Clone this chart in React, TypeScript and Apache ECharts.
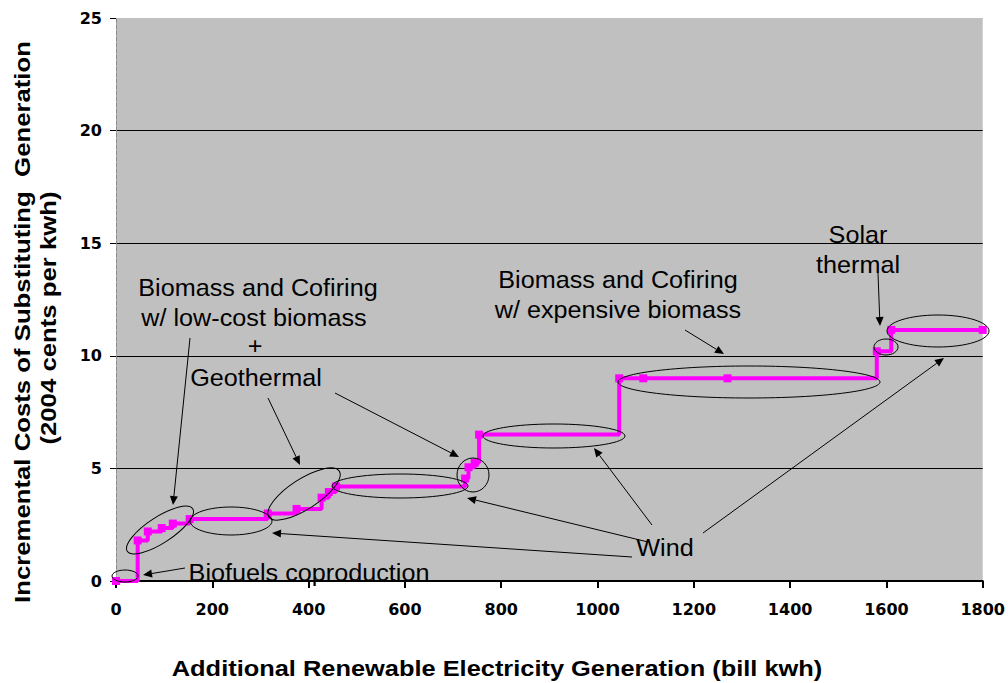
import React, { useEffect, useRef } from "react";
import * as echarts from "echarts";

// Supply curve data (bill kwh, 2004 cents per kwh)
const generation = [0, 45, 66, 95, 118, 153, 315, 375, 427, 442, 457, 725, 732, 745, 754, 1045, 1095, 1270, 1580, 1610, 1800];
const cost = [0, 1.8, 2.2, 2.35, 2.55, 2.75, 3.0, 3.2, 3.7, 3.95, 4.2, 4.55, 5.05, 5.25, 6.5, 9.0, 9.0, 9.0, 10.2, 11.15, 11.15];

const xTicks = [0, 200, 400, 600, 800, 1000, 1200, 1400, 1600, 1800];
const yTicks = [0, 5, 10, 15, 20, 25];

const xTitle = "Additional Renewable Electricity Generation (bill kwh)";
const yTitle1 = "Incremental Costs of Substituting  Generation";
const yTitle2 = "(2004 cents per kwh)";

// Annotation labels
const labelTexts = [
  "Biomass and Cofiring",
  "w/ low-cost biomass",
  "+",
  "Geothermal",
  "Biomass and Cofiring",
  "w/ expensive biomass",
  "Solar",
  "thermal",
  "Wind",
  "Biofuels coproduction",
];

export default function App() {
  const ref = useRef<HTMLDivElement>(null);
  useEffect(() => {
    if (!ref.current) return;
    const chart = echarts.init(ref.current, null, { renderer: "svg" });

    const labelPos = [
      [258, 288], [254, 318], [255, 346], [256, 378],
      [618, 280], [618, 310],
      [858, 235], [858, 265],
      [665, 548],
      [309, 573],
    ];
    const ellipses = [
      [125, 576, 13, 6, 0],
      [160, 530, 39, 13, 33],
      [231, 521, 41, 14, 0],
      [304, 494, 42, 15, 33],
      [400, 486, 68, 12, 0],
      [473, 475, 16, 17, 0],
      [554, 436, 71, 12, 0],
      [749, 382, 131, 16, 0],
      [886, 347, 12, 8, 0],
      [938, 331, 51, 16, 0],
    ];
    const arrows = [
      [185, 568, 143, 575],
      [190, 338, 173, 505],
      [268, 398, 300, 465],
      [335, 393, 459, 457],
      [685, 330, 724, 354],
      [878, 273, 880, 326],
      [648, 542, 467, 498],
      [632, 557, 272, 533],
      [652, 525, 594, 448],
      [703, 533, 944, 358],
    ];

    const graphics: any[] = [];
    labelTexts.forEach((t, i) => {
      graphics.push({
        type: "text",
        x: labelPos[i][0],
        y: labelPos[i][1],
        scaleX: 1.05,
        z: 100,
        style: {
          text: t,
          fill: "#000",
          font: "24px 'Liberation Sans', Arial, sans-serif",
          textAlign: "center",
          textVerticalAlign: "middle",
        },
      });
    });
    ellipses.forEach((e) => {
      graphics.push({
        type: "ellipse",
        x: e[0],
        y: e[1],
        rotation: (e[4] * Math.PI) / 180,
        z: 90,
        shape: { cx: 0, cy: 0, rx: e[2], ry: e[3] },
        style: { fill: "none", stroke: "#000", lineWidth: 1 },
      });
    });
    arrows.forEach((a) => {
      const [x1, y1, x2, y2] = a;
      const ang = Math.atan2(y2 - y1, x2 - x1);
      const len = 9;
      const w = 4;
      const bx = x2 - len * Math.cos(ang);
      const by = y2 - len * Math.sin(ang);
      graphics.push({
        type: "line",
        z: 90,
        shape: { x1, y1, x2: bx, y2: by },
        style: { stroke: "#000", lineWidth: 1 },
      });
      graphics.push({
        type: "polygon",
        z: 90,
        shape: {
          points: [
            [x2, y2],
            [bx + w * Math.sin(ang), by - w * Math.cos(ang)],
            [bx - w * Math.sin(ang), by + w * Math.cos(ang)],
          ],
        },
        style: { fill: "#000" },
      });
    });
    const titleFont = "bold 22px 'Liberation Sans', Arial, sans-serif";
    graphics.push({
      type: "text",
      x: 22,
      y: 322,
      rotation: Math.PI / 2,
      scaleX: 1.17,
      style: {
        text: yTitle1,
        fill: "#000",
        font: titleFont,
        textAlign: "center",
        textVerticalAlign: "middle",
      },
    });
    graphics.push({
      type: "text",
      x: 48,
      y: 318,
      rotation: Math.PI / 2,
      scaleX: 1.17,
      style: {
        text: yTitle2,
        fill: "#000",
        font: titleFont,
        textAlign: "center",
        textVerticalAlign: "middle",
      },
    });
    graphics.push({
      type: "text",
      x: 497,
      y: 668,
      scaleX: 1.155,
      style: {
        text: xTitle,
        fill: "#000",
        font: titleFont,
        textAlign: "center",
        textVerticalAlign: "middle",
      },
    });

    const tickFont = {
      color: "#000",
      fontWeight: "bold",
      fontSize: 16,
      fontFamily: "'DejaVu Sans', sans-serif",
    };

    chart.setOption({
      animation: false,
      backgroundColor: "#fff",
      grid: {
        left: 116,
        right: 23,
        top: 18,
        bottom: 102,
        show: true,
        backgroundColor: "#C0C0C0",
        borderWidth: 0,
      },
      xAxis: {
        type: "value",
        min: xTicks[0],
        max: xTicks[xTicks.length - 1],
        interval: 200,
        axisLine: { show: true, onZero: false, lineStyle: { color: "#000", width: 2 } },
        axisTick: { show: true, length: 7, lineStyle: { color: "#000", width: 2 } },
        axisLabel: {
          ...tickFont,
          margin: 20,
          formatter: (v: number) => String(v),
        },
        splitLine: { show: false },
      },
      yAxis: {
        type: "value",
        min: yTicks[0],
        max: yTicks[yTicks.length - 1],
        interval: 5,
        axisLine: { show: true, lineStyle: { color: "#8a8a8a", width: 1, type: "dashed" } },
        axisTick: { show: true, length: 6, lineStyle: { color: "#000", width: 1 } },
        axisLabel: {
          ...tickFont,
          margin: 14,
          formatter: (v: number) => String(v),
        },
        splitLine: {
          show: true,
          lineStyle: { color: ["#000", "#000", "#000", "#000", "#000", "#C0C0C0"], width: 1 },
        },
      },
      series: [
        {
          type: "line",
          step: "end",
          data: generation.map((g, i) => [g, cost[i]]),
          lineStyle: { color: "#FF00FF", width: 4 },
          itemStyle: { color: "#FF00FF" },
          symbol: "rect",
          symbolSize: 8,
          showSymbol: true,
          z: 50,
        },
      ],
      graphic: graphics,
    });
    return () => chart.dispose();
  }, []);
  return (
    <div
      ref={ref}
      style={{ position: "fixed", left: 0, top: 0, width: 1008, height: 683 }}
    />
  );
}
